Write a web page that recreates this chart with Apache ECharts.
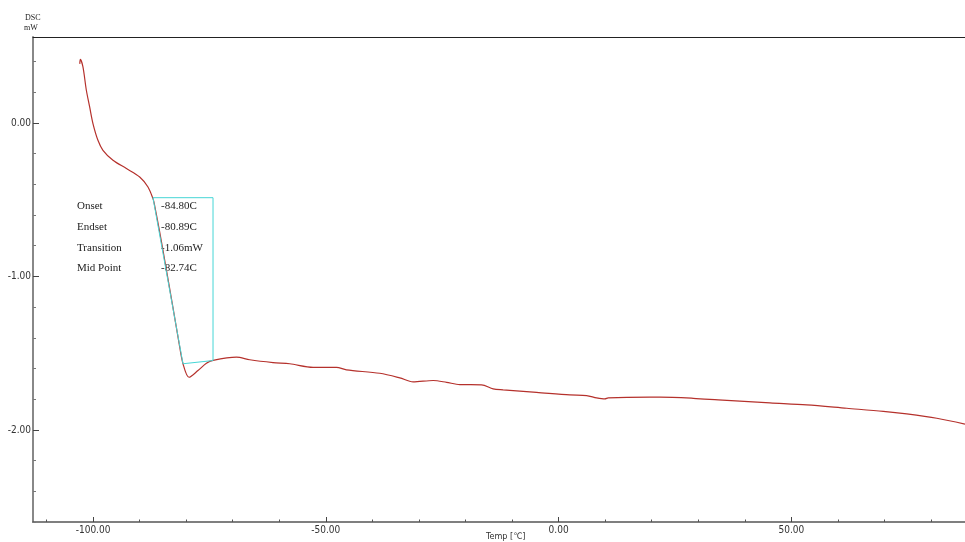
<!DOCTYPE html>
<html>
<head>
<meta charset="utf-8">
<script src="https://cdn.jsdelivr.net/npm/echarts@6/dist/echarts.min.js"></script>
<style>html,body{margin:0;padding:0;background:#fff;}#c{width:965px;height:542px;}</style>
</head>
<body>
<div id="c"></div>
<script>
// ---- data ----
var tempC = [-102.85,-102.73,-102.17,-101.44,-100.73,-100.02,-98.95,-97.87,-95.72,-92.84,-89.98,-88.20,-87.13,-86.85,-85.75,-84.35,-82.85,-81.50,-80.68,-79.39,-77.46,-75.65,-74.23,-69.20,-66.34,-61.34,-57.75,-52.74,-47.71,-45.56,-38.41,-34.11,-31.25,-26.95,-24.07,-21.21,-16.55,-14.06,-11.91,-4.73,2.43,6.02,8.17,9.95,10.66,19.62,21.77,28.93,34.30,45.41,53.30,61.90,69.76,74.79,81.24,87.3];
var dscMW = [0.385,0.414,0.365,0.213,0.104,-0.004,-0.113,-0.178,-0.243,-0.297,-0.352,-0.417,-0.493,-0.526,-0.700,-0.939,-1.200,-1.439,-1.569,-1.657,-1.613,-1.566,-1.547,-1.526,-1.543,-1.561,-1.569,-1.592,-1.592,-1.609,-1.631,-1.661,-1.687,-1.678,-1.690,-1.705,-1.706,-1.733,-1.739,-1.755,-1.772,-1.776,-1.791,-1.798,-1.791,-1.787,-1.787,-1.794,-1.804,-1.824,-1.837,-1.859,-1.879,-1.896,-1.924,-1.962];

// glass transition evaluation box / tangent / baseline
var boxX = [-87.13, -74.23, -74.23];
var boxY = [-0.487, -0.487, -1.548];
var tangentX = [-87.13, -80.68];
var tangentY = [-0.487, -1.569];
var baseX = [-80.68, -74.23];
var baseY = [-1.569, -1.548];

var resultNames = ['Onset', 'Endset', 'Transition', 'Mid Point'];
var resultValues = ['-84.80C', '-80.89C', '-1.06mW', '-82.74C'];

var xMajorTicks = [-100, -50, 0, 50];
var xMinorTicks = [-110,-90,-80,-70,-60,-40,-30,-20,-10,10,20,30,40,60,70,80];
var yMajorTicks = [-2, -1, 0];
var yMinorTicks = [-2.6,-2.4,-2.2,-1.8,-1.6,-1.4,-1.2,-0.8,-0.6,-0.4,-0.2,0.2,0.4];

var X_MIN = -112.9, X_MAX = 87.3, Y_MIN = -2.6, Y_MAX = 0.56;

function zip(a, b) { return a.map(function (v, i) { return [v, b[i]]; }); }

var labelFont = '"Liberation Sans Narrow","DejaVu Sans Condensed","Liberation Sans",sans-serif';
var textFont = '"Liberation Serif","DejaVu Serif",serif';

var chart = echarts.init(document.getElementById('c'), null, {renderer: 'canvas'});

var grid = {left: 33, top: 37, right: 0, bottom: 20, containLabel: false};

function xAxisBase(extra) {
  return Object.assign({
    type: 'value', min: X_MIN, max: X_MAX, position: 'bottom',
    splitLine: {show: false},
    axisLine: {show: true, onZero: false, lineStyle: {color: '#555', width: 1.5}},
    axisTick: {show: false}, axisLabel: {show: false}
  }, extra);
}
function yAxisBase(extra) {
  return Object.assign({
    type: 'value', min: Y_MIN, max: Y_MAX, position: 'left',
    splitLine: {show: false},
    axisLine: {show: true, onZero: false, lineStyle: {color: '#888', width: 2}},
    axisTick: {show: false}, axisLabel: {show: false}
  }, extra);
}

var labelsY = resultNames.map(function (n, i) { return 207 + i * 20.7; });
var graphics = [
  {type: 'text', left: 25, top: 14, style: {text: 'DSC', font: '8px ' + textFont, fill: '#222'}},
  {type: 'text', left: 24, top: 24, style: {text: 'mW', font: '8px ' + textFont, fill: '#222'}},
  {type: 'text', left: 486, top: 532, style: {text: 'Temp [℃]', font: '9px ' + labelFont, fill: '#333'}}
];
resultNames.forEach(function (n, i) {
  graphics.push({type: 'text', left: 77, top: labelsY[i] - 6, style: {text: n, font: '11px ' + textFont, fill: '#222'}});
  graphics.push({type: 'text', left: 161, top: labelsY[i] - 6, style: {text: resultValues[i], font: '11px ' + textFont, fill: '#222'}});
});

var option = {
  animation: false,
  backgroundColor: '#fff',
  grid: grid,
  xAxis: [
    xAxisBase({
      axisTick: {show: true, inside: true, length: 5, customValues: xMajorTicks, lineStyle: {color: '#444', width: 1}},
      axisLabel: {show: true, customValues: xMajorTicks, margin: 3, color: '#333',
        fontFamily: labelFont, fontSize: 10, formatter: function (v) { return v.toFixed(2); }}
    }),
    xAxisBase({
      axisLine: {show: false, onZero: false},
      axisTick: {show: true, inside: true, length: 2.5, customValues: xMinorTicks, lineStyle: {color: '#555'}}
    }),
    xAxisBase({
      position: 'top',
      axisLine: {show: true, onZero: false, lineStyle: {color: '#222', width: 1}}
    })
  ],
  yAxis: [
    yAxisBase({
      axisTick: {show: true, inside: true, length: 6, customValues: yMajorTicks, lineStyle: {color: '#444'}},
      axisLabel: {show: true, customValues: yMajorTicks, margin: 2, color: '#333',
        fontFamily: labelFont, fontSize: 10, formatter: function (v) { return v.toFixed(2); }}
    }),
    yAxisBase({
      axisLine: {show: false, onZero: false},
      axisTick: {show: true, inside: true, length: 3, customValues: yMinorTicks, lineStyle: {color: '#777'}}
    })
  ],
  graphic: graphics,
  series: [
    {
      type: 'line', xAxisIndex: 0, yAxisIndex: 0, data: zip(boxX, boxY),
      showSymbol: false, lineStyle: {color: '#46d6d6', width: 1}, z: 3
    },
    {
      type: 'line', xAxisIndex: 0, yAxisIndex: 0, data: zip(tangentX, tangentY),
      showSymbol: false, lineStyle: {color: '#46d6d6', width: 1}, z: 3
    },
    {
      type: 'line', xAxisIndex: 0, yAxisIndex: 0, data: zip(baseX, baseY),
      showSymbol: false, lineStyle: {color: '#46d6d6', width: 1}, z: 3
    },
    {
      type: 'line', xAxisIndex: 0, yAxisIndex: 0, data: zip(tempC, dscMW),
      showSymbol: false, smooth: 0.3,
      lineStyle: {color: '#b5312c', width: 1.2}, z: 2
    }
  ]
};
chart.setOption(option);
</script>
</body>
</html>
